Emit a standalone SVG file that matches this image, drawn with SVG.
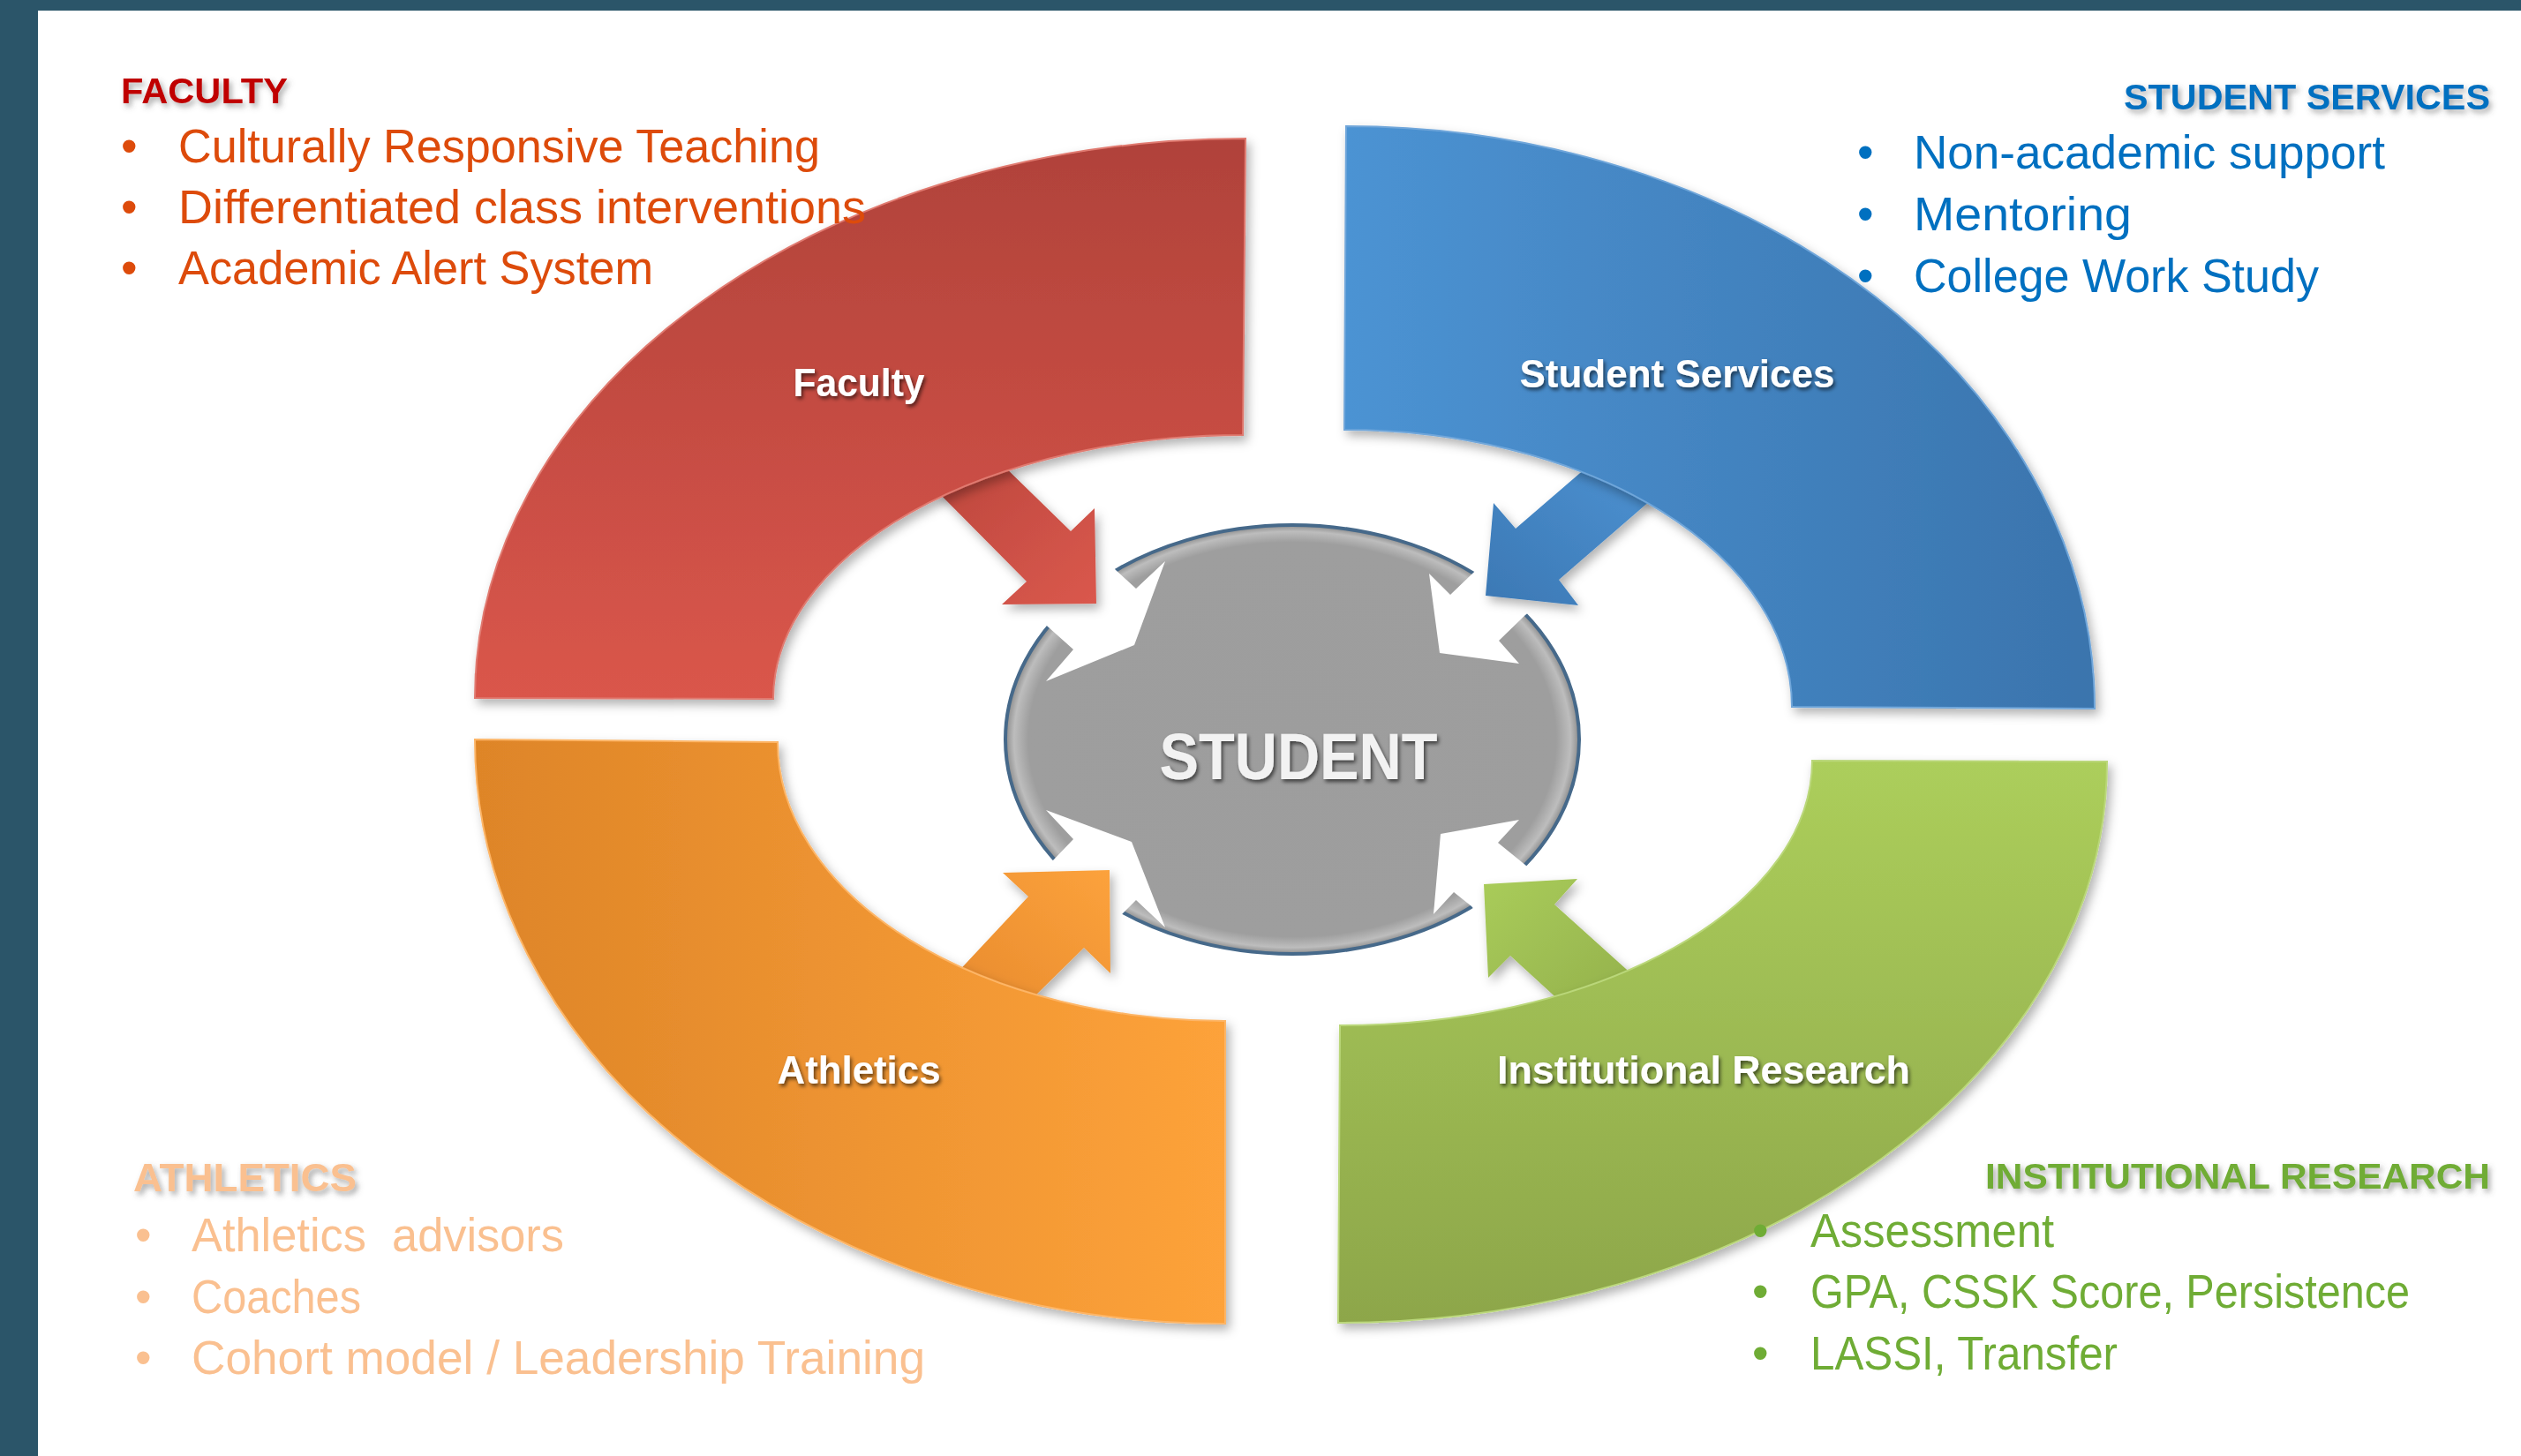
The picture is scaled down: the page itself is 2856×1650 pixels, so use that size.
<svg xmlns="http://www.w3.org/2000/svg" width="2856" height="1650" viewBox="0 0 2856 1650">
<defs>
<style>
.lbl{font-family:"Liberation Sans",Arial,sans-serif;font-weight:bold;font-size:44px;fill:#FFFFFF;text-anchor:middle;filter:url(#tsh)}
.hd{font-family:"Liberation Sans",Arial,sans-serif;font-weight:bold;filter:url(#hsh)}
.it{font-family:"Liberation Sans",Arial,sans-serif;font-size:53px}
.fac{fill:#DD4B0B}.ss{fill:#0070C0}.ath{fill:#FAC090}.ir{fill:#6FAC35}
</style>
<linearGradient id="gFac" gradientUnits="userSpaceOnUse" x1="0" y1="157" x2="0" y2="792"><stop offset="0" stop-color="#B0423A"/><stop offset="1" stop-color="#DA564B"/></linearGradient>
<linearGradient id="gSS" gradientUnits="userSpaceOnUse" x1="1525" y1="0" x2="2373" y2="0"><stop offset="0" stop-color="#4C93D3"/><stop offset="1" stop-color="#3A74AD"/></linearGradient>
<linearGradient id="gAth" gradientUnits="userSpaceOnUse" x1="538" y1="0" x2="1388" y2="0"><stop offset="0" stop-color="#DE8528"/><stop offset="1" stop-color="#FDA23A"/></linearGradient>
<linearGradient id="gIR" gradientUnits="userSpaceOnUse" x1="0" y1="863" x2="0" y2="1499"><stop offset="0" stop-color="#ACCE5B"/><stop offset="1" stop-color="#8DA64A"/></linearGradient>
<linearGradient id="aFac" x1="0" y1="0" x2="1" y2="1"><stop offset="0" stop-color="#BC473D"/><stop offset="1" stop-color="#DA584D"/></linearGradient>
<linearGradient id="aSS" x1="1" y1="0" x2="0" y2="1"><stop offset="0" stop-color="#4C92D2"/><stop offset="1" stop-color="#3C78B4"/></linearGradient>
<linearGradient id="aAth" x1="0" y1="1" x2="1" y2="0"><stop offset="0" stop-color="#E88B2E"/><stop offset="1" stop-color="#FCA23C"/></linearGradient>
<linearGradient id="aIR" x1="1" y1="1" x2="0" y2="0"><stop offset="0" stop-color="#94B14C"/><stop offset="1" stop-color="#A9CC5A"/></linearGradient>
<radialGradient id="gStu" cx="0.5" cy="0.5" r="0.5"><stop offset="0" stop-color="#9D9D9D"/><stop offset="0.92" stop-color="#9E9E9E"/><stop offset="0.97" stop-color="#BDBDBD"/><stop offset="1" stop-color="#8C8C8C"/></radialGradient>
<filter id="dsh" x="-10%" y="-10%" width="125%" height="125%"><feDropShadow dx="4" dy="6" stdDeviation="6" flood-color="#000" flood-opacity="0.3"/></filter>
<filter id="tsh" x="-10%" y="-30%" width="130%" height="170%"><feDropShadow dx="2" dy="3" stdDeviation="2" flood-color="#000" flood-opacity="0.6"/></filter>
<filter id="hsh" x="-10%" y="-30%" width="130%" height="170%"><feDropShadow dx="3" dy="4" stdDeviation="3" flood-color="#555" flood-opacity="0.5"/></filter>
</defs>
<rect x="0" y="0" width="2856" height="1650" fill="#FFFFFF"/>
<rect x="0" y="0" width="43" height="1650" fill="#2B5569"/>
<rect x="0" y="0" width="2856" height="12" fill="#2B5569"/>

<g id="student">
<ellipse cx="1464" cy="838" rx="325" ry="243" fill="url(#gStu)" stroke="#46698A" stroke-width="4"/>
<g fill="#FFFFFF">
<polygon points="1320,636 1285,731 1185,772 1216,736 1188,711 1150,676 1230,608 1264,646 1287,667"/>
<polygon points="1619,650 1631,740 1721,752 1698,726 1728,697 1765,668 1700,620 1667,651 1643,674"/>
<polygon points="1185,918 1282,954 1320,1051 1287,1020 1272,1035 1245,1070 1160,1000 1192,976 1216,951"/>
<polygon points="1721,929 1632,945 1624,1036 1647,1011 1667,1027 1695,1060 1765,1005 1729,981 1697,955"/>
</g>
<text x="1471" y="883" font-family="Liberation Sans, Arial, sans-serif" font-weight="bold" font-size="74" fill="#F2F2F2" text-anchor="middle" textLength="315" lengthAdjust="spacingAndGlyphs" filter="url(#tsh)">STUDENT</text>
</g>

<g id="connectors" filter="url(#dsh)">
<polygon fill="url(#aFac)" points="1058,553 1131,522 1213,602 1240,576 1242,684 1135,685 1163,659"/>
<polygon fill="url(#aSS)" points="1804,524 1878,560 1766,657 1788,686 1683,675 1692,570 1717,599"/>
<polygon fill="url(#aAth)" points="1080,1107 1165,1016 1136,989 1257,986 1258,1103 1228,1074 1163,1138"/>
<polygon fill="url(#aIR)" points="1852,1107 1761,1025 1787,996 1681,1002 1686,1108 1711,1083 1771,1138"/>
</g>

<g id="faculty">
<path d="M 538 791 A 873 634 0 0 1 1411 157 L 1408 493 A 532 299 0 0 0 876 792 Z" fill="url(#gFac)" stroke="#E07A70" stroke-width="2" filter="url(#dsh)"/>
<text class="lbl" x="973" y="449" textLength="149" lengthAdjust="spacingAndGlyphs">Faculty</text>
</g>
<g id="student-services">
<path d="M 1525 143 A 848 660 0 0 1 2373 803 L 2030 801 A 507 314 0 0 0 1523 487 Z" fill="url(#gSS)" stroke="#6FA6DA" stroke-width="2" filter="url(#dsh)"/>
<text class="lbl" x="1900" y="439" textLength="357" lengthAdjust="spacingAndGlyphs">Student Services</text>
</g>
<g id="athletics">
<path d="M 538 838 A 850 662 0 0 0 1388 1500 L 1388 1157 A 507 316 0 0 1 881 841 Z" fill="url(#gAth)" stroke="#FDB566" stroke-width="2" filter="url(#dsh)"/>
<text class="lbl" x="973" y="1228" textLength="185" lengthAdjust="spacingAndGlyphs">Athletics</text>
</g>
<g id="institutional-research">
<path d="M 2387 863 A 871 636 0 0 1 1516 1499 L 1518 1162 A 535 300 0 0 0 2053 862 Z" fill="url(#gIR)" stroke="#BAD77A" stroke-width="2" filter="url(#dsh)"/>
<text class="lbl" x="1930" y="1228" textLength="468" lengthAdjust="spacingAndGlyphs">Institutional Research</text>
</g>

<g id="faculty-list">
<text class="hd" x="137" y="117" font-size="41" fill="#C00000" textLength="189" lengthAdjust="spacingAndGlyphs">FACULTY</text>
<g class="it fac">
<text x="137" y="184">•</text><text x="202" y="184" textLength="727" lengthAdjust="spacingAndGlyphs">Culturally Responsive Teaching</text>
<text x="137" y="253">•</text><text x="202" y="253" textLength="779" lengthAdjust="spacingAndGlyphs">Differentiated class interventions</text>
<text x="137" y="322">•</text><text x="202" y="322" textLength="538" lengthAdjust="spacingAndGlyphs">Academic Alert System</text>
</g>
</g>
<g id="student-services-list">
<text class="hd" x="2821" y="124" font-size="41" fill="#0070C0" text-anchor="end" textLength="415" lengthAdjust="spacingAndGlyphs">STUDENT SERVICES</text>
<g class="it ss">
<text x="2104" y="191">•</text><text x="2168" y="191" textLength="534" lengthAdjust="spacingAndGlyphs">Non-academic support</text>
<text x="2104" y="261">•</text><text x="2168" y="261" textLength="247" lengthAdjust="spacingAndGlyphs">Mentoring</text>
<text x="2104" y="331">•</text><text x="2168" y="331" textLength="459" lengthAdjust="spacingAndGlyphs">College Work Study</text>
</g>
</g>
<g id="athletics-list">
<text class="hd" x="151" y="1350" font-size="45" fill="#FAC090" textLength="253" lengthAdjust="spacingAndGlyphs">ATHLETICS</text>
<g class="it ath">
<text x="153" y="1418">•</text><text x="217" y="1418" xml:space="preserve" textLength="422" lengthAdjust="spacingAndGlyphs">Athletics  advisors</text>
<text x="153" y="1488">•</text><text x="217" y="1488" textLength="192" lengthAdjust="spacingAndGlyphs">Coaches</text>
<text x="153" y="1557">•</text><text x="217" y="1557" textLength="831" lengthAdjust="spacingAndGlyphs">Cohort model / Leadership Training</text>
</g>
</g>
<g id="institutional-research-list">
<text class="hd" x="2821" y="1347" font-size="41" fill="#6FAC35" text-anchor="end" textLength="572" lengthAdjust="spacingAndGlyphs">INSTITUTIONAL RESEARCH</text>
<g class="it ir">
<text x="1985" y="1413">•</text><text x="2051" y="1413" textLength="276" lengthAdjust="spacingAndGlyphs">Assessment</text>
<text x="1985" y="1482">•</text><text x="2051" y="1482" textLength="679" lengthAdjust="spacingAndGlyphs">GPA, CSSK Score, Persistence</text>
<text x="1985" y="1552">•</text><text x="2051" y="1552" textLength="348" lengthAdjust="spacingAndGlyphs">LASSI, Transfer</text>
</g>
</g>
</svg>
